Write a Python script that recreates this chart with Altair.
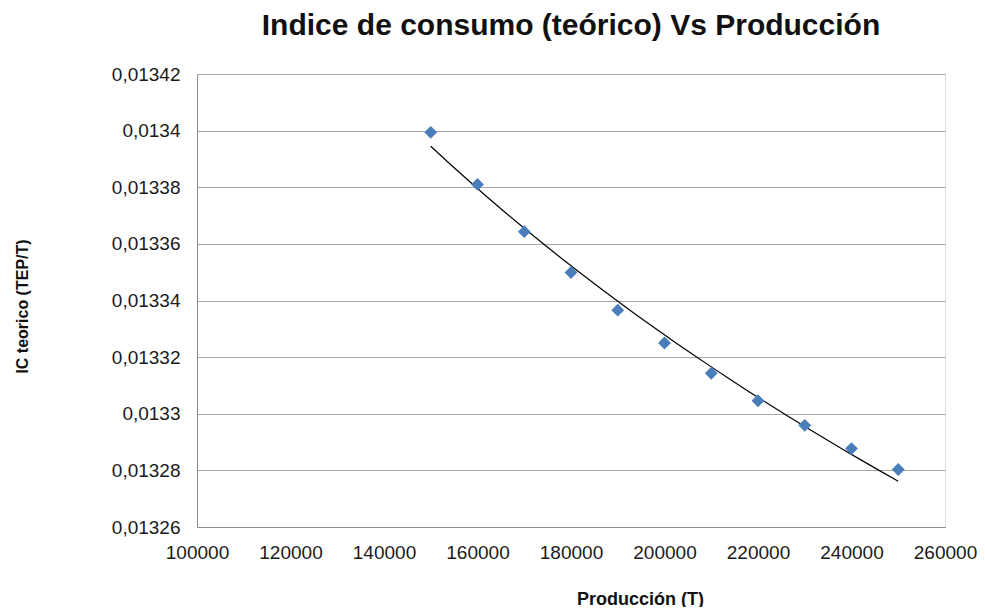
import altair as alt
import pandas as pd

# Data
produccion = [150000, 160000, 170000, 180000, 190000, 200000,
              210000, 220000, 230000, 240000, 250000]
ic_teorico = [0.0133994, 0.0133810, 0.0133643, 0.0133499, 0.0133366, 0.0133250,
              0.0133143, 0.0133046, 0.0132959, 0.0132877, 0.0132803]
y_ticks = [0.01326, 0.01328, 0.0133, 0.01332, 0.01334, 0.01336, 0.01338, 0.0134, 0.01342]
x_ticks = [100000, 120000, 140000, 160000, 180000, 200000, 220000, 240000, 260000]

df = pd.DataFrame({"x": produccion, "y": ic_teorico})

FONT = "Liberation Sans"

x_enc = alt.X("x:Q",
              scale=alt.Scale(domain=[100000, 260000], nice=False, zero=False),
              axis=alt.Axis(values=x_ticks, format="d", grid=False,
                            labelFlush=False, labelOverlap=False, labelBound=False,
                            title="Producción (T)", titleFont=FONT, titleFontSize=18,
                            titleFontWeight="bold", titleColor="#111",
                            titleX=443, titleY=72, titleBaseline="middle",
                            labelFont=FONT, labelFontSize=19, labelColor="#1a1a1a",
                            labelPadding=16, tickSize=0, domainColor="#8c8c8c"))
y_enc = alt.Y("y:Q",
              scale=alt.Scale(domain=[0.01326, 0.01342], nice=False, zero=False),
              axis=alt.Axis(values=y_ticks, grid=True, gridColor="#a6a6a6",
                            labelFlush=False, labelOverlap=False, labelBound=False,
                            labelExpr="replace(format(datum.value, '.5~f'), '.', ',')",
                            title="IC teorico (TEP/T)", titleFont=FONT, titleFontSize=16,
                            titleFontWeight="bold", titleColor="#111",
                            titleX=-175, titleY=232, titleAngle=-90, titleBaseline="middle",
                            labelFont=FONT, labelFontSize=19, labelColor="#1a1a1a",
                            labelPadding=17, tickSize=0, domainColor="#8c8c8c"))

points = alt.Chart(df).mark_point(shape="diamond", filled=True, size=165,
                                  color="#4a7ebb", opacity=1).encode(x=x_enc, y=y_enc)

trend = alt.Chart(df).transform_regression(
    "x", "y", method="log", extent=[150000, 250000]
).mark_line(color="#000000", strokeWidth=1.2).encode(x="x:Q", y="y:Q")

chart = alt.layer(trend, points).properties(
    width=748, height=453,
    title=alt.TitleParams("Indice de consumo (teórico) Vs Producción",
                          font=FONT, fontSize=30, fontWeight="bold", color="#111",
                          anchor="middle", offset=24),
    autosize=alt.AutoSizeParams(type="none"),
    padding={"left": 189, "top": 66, "right": 32, "bottom": 80},
).configure_view(stroke=None).configure(background="white")

chart.save("out.html", embed_options={"renderer": "svg", "actions": False})
